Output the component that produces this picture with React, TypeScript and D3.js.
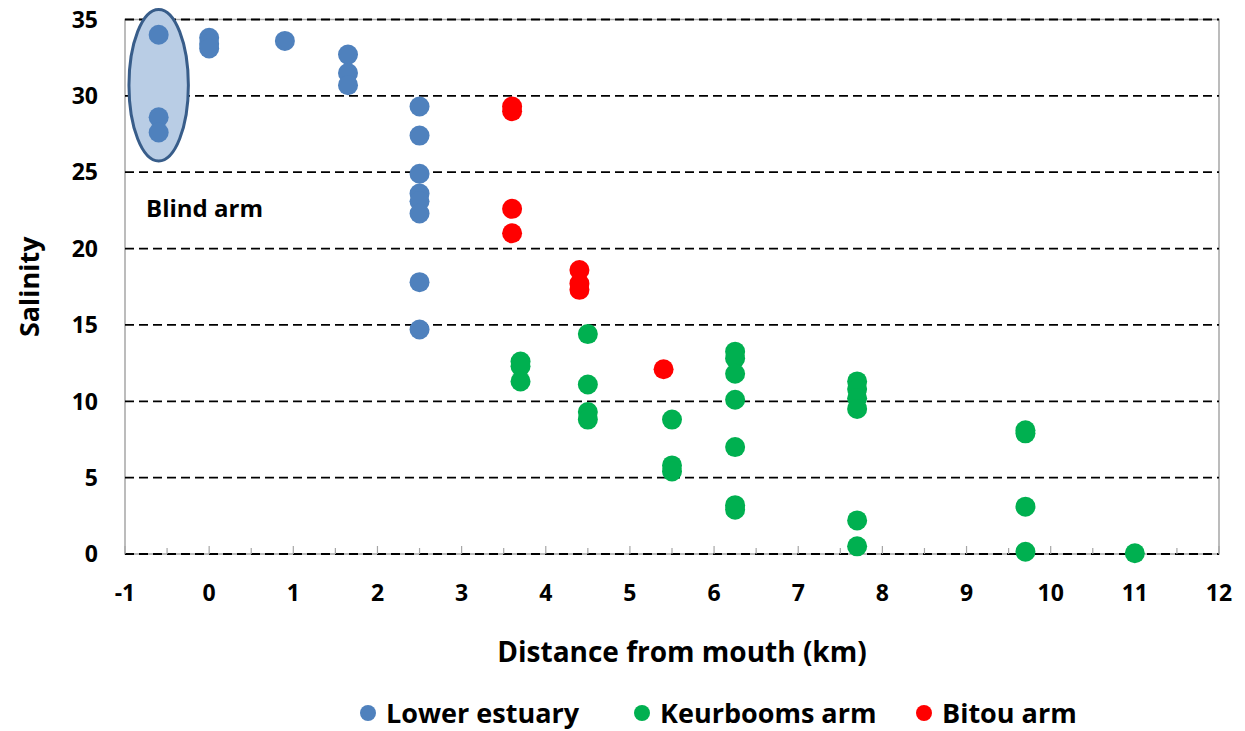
import React from "react";
import * as d3 from "d3";

// x = distance from mouth (km), y = salinity
const lowerEstuary: [number, number][] = [
  [-0.6, 34.0], [-0.6, 28.6], [-0.6, 27.6],
  [0, 33.8], [0, 33.4], [0, 33.1],
  [0.9, 33.6],
  [1.65, 32.7], [1.65, 31.5], [1.65, 30.7],
  [2.5, 29.3], [2.5, 27.4], [2.5, 24.9], [2.5, 23.6], [2.5, 23.1], [2.5, 22.3],
  [2.5, 17.8], [2.5, 14.7],
];

const keurboomsArm: [number, number][] = [
  [3.7, 12.6], [3.7, 12.3], [3.7, 11.3],
  [4.5, 14.4], [4.5, 11.1], [4.5, 9.3], [4.5, 8.8],
  [5.5, 8.8], [5.5, 5.8], [5.5, 5.4],
  [6.25, 13.25], [6.25, 12.8], [6.25, 11.8], [6.25, 10.1], [6.25, 7.0], [6.25, 3.2], [6.25, 2.9],
  [7.7, 11.3], [7.7, 10.8], [7.7, 10.2], [7.7, 9.5], [7.7, 2.2], [7.7, 0.5],
  [9.7, 8.1], [9.7, 7.9], [9.7, 3.1], [9.7, 0.15],
  [11, 0.05],
];

const bitouArm: [number, number][] = [
  [3.6, 29.3], [3.6, 29.0], [3.6, 22.6], [3.6, 21.0],
  [4.4, 18.6], [4.4, 17.7], [4.4, 17.3],
  [5.4, 12.1],
];

const series = [
  { name: "Lower estuary", color: "#4F81BD", data: lowerEstuary },
  { name: "Keurbooms arm", color: "#00B050", data: keurboomsArm },
  { name: "Bitou arm", color: "#FF0000", data: bitouArm },
];

const xTicks = d3.range(-1, 13, 1);
const xMinorTicks = d3.range(-1, 12.01, 0.5);
const yTicks = d3.range(0, 36, 5);

// the "Blind arm" group highlighted by an ellipse
const blindArm = { cx: -0.6, cy: 30.7, rx: 0.353, ry: 4.96, label: "Blind arm" };

const W = 1245;
const H = 731;
const m = { left: 125, right: 26, top: 19.5, bottom: 177 };
const FONT = "'Open Sans', 'Noto Sans', sans-serif";

export default function App() {
  const x = d3.scaleLinear().domain([-1, 12]).range([m.left, W - m.right]);
  const y = d3.scaleLinear().domain([0, 35]).range([H - m.bottom, m.top]);
  const x0 = x.range()[0];
  const x1 = x.range()[1];
  const yb = y(0);
  const yt = y(35);

  const legendX = [368, 642, 924];

  return (
    <svg
      width={W}
      height={H}
      style={{ position: "absolute", left: 0, top: 0, background: "#fff" }}
      fontFamily={FONT}
    >
      {/* plot frame */}
      <rect x={x0} y={yt} width={x1 - x0} height={yb - yt} fill="none" stroke="#A6A6A6" strokeWidth={1.5} />

      {/* gridlines */}
      {yTicks.map((t) => (
        <line
          key={t}
          x1={x0}
          x2={x1}
          y1={y(t)}
          y2={y(t)}
          stroke="#000"
          strokeWidth={1.8}
          strokeDasharray="9,5"
        />
      ))}

      {/* x ticks (inside) */}
      {xMinorTicks.map((t) => {
        const major = Math.abs(t - Math.round(t)) < 1e-6;
        return (
          <line
            key={t}
            x1={x(t)}
            x2={x(t)}
            y1={yb}
            y2={yb - (major ? 8 : 6)}
            stroke="#A6A6A6"
            strokeWidth={1.2}
          />
        );
      })}

      {/* tick labels */}
      {yTicks.map((t) => (
        <text
          key={t}
          x={x0 - 27}
          y={y(t)}
          dy="0.36em"
          textAnchor="end"
          fontSize={23}
          fontWeight={700}
        >
          {t}
        </text>
      ))}
      {xTicks.map((t) => (
        <text key={t} x={x(t)} y={yb + 47} textAnchor="middle" fontSize={23} fontWeight={700}>
          {t}
        </text>
      ))}

      {/* axis titles */}
      <text x={(x0 + x1) / 2 + 10} y={662} textAnchor="middle" fontSize={28} fontWeight={700}>
        Distance from mouth (km)
      </text>
      <text
        transform={`translate(39, ${(yt + yb) / 2}) rotate(-90)`}
        textAnchor="middle"
        fontSize={27}
        fontWeight={700}
      >
        Salinity
      </text>

      {/* blind arm ellipse */}
      <ellipse
        cx={x(blindArm.cx)}
        cy={y(blindArm.cy)}
        rx={x(blindArm.cx + blindArm.rx) - x(blindArm.cx)}
        ry={y(blindArm.cy - blindArm.ry) - y(blindArm.cy)}
        fill="#B9CDE5"
        stroke="#385D8A"
        strokeWidth={3}
      />
      <text x={x(-0.75)} y={y(22.07)} fontSize={24} fontWeight={700}>
        {blindArm.label}
      </text>

      {/* points */}
      {series.map((s) => (
        <g key={s.name} fill={s.color}>
          {s.data.map((d, i) => (
            <circle key={i} cx={x(d[0])} cy={y(d[1])} r={10} />
          ))}
        </g>
      ))}

      {/* legend */}
      {series.map((s, i) => (
        <g key={s.name} transform={`translate(${legendX[i]}, 713)`}>
          <circle cx={0} cy={0} r={8} fill={s.color} />
          <text x={18} y={0} dy="0.36em" fontSize={27} fontWeight={700}>
            {s.name}
          </text>
        </g>
      ))}
    </svg>
  );
}
